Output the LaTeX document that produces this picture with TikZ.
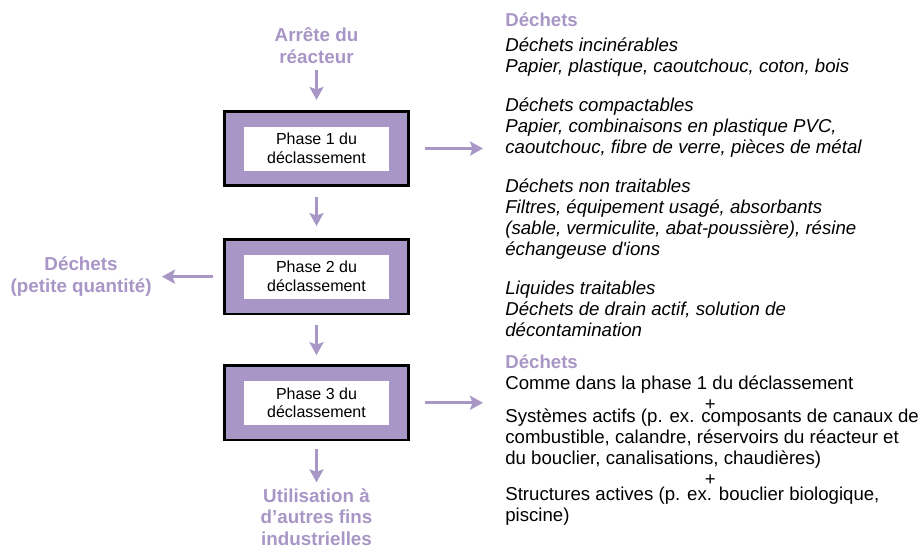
\documentclass[tikz,border=0pt]{standalone}
\usepackage{fontspec}
\setmainfont{Liberation Sans}
\usetikzlibrary{arrows.meta, positioning}
\definecolor{lilac}{RGB}{168,150,198}

\begin{document}
\begin{tikzpicture}[
    phasebox/.style={draw=black, line width=1.5pt, fill=lilac, minimum width=3.69cm, minimum height=1.49cm},
    phasetext/.style={fill=white, minimum width=2.9cm, minimum height=0.88cm, align=center,
                      inner sep=0pt, font=\fontsize{9.1}{10.8}\selectfont},
    tag/.style={text=lilac, font=\fontsize{10.7}{12.2}\selectfont\bfseries, align=center, inner sep=0pt},
    list/.style={align=left, inner sep=0pt, anchor=north west, font=\fontsize{10.6}{11.95}\selectfont},
    flow/.style={-{Stealth[length=0.26cm, width=0.28cm, inset=0.05cm]}, line width=1.6pt, lilac}]

    \useasboundingbox (0,0) rectangle (18.4,-10.96);

    % Phases - centre column
    \node[phasebox] (phase1) at (6.33,-2.97) {};
    \node[phasebox, below=1.02cm of phase1] (phase2) {};
    \node[phasebox, below=0.98cm of phase2] (phase3) {};
    \node[phasetext] (phase1txt) at (phase1) {Phase 1 du\\déclassement};
    \node[phasetext] (phase2txt) at (phase2) {Phase 2 du\\déclassement};
    \node[phasetext] (phase3txt) at (phase3) {Phase 3 du\\déclassement};

    % Inputs and outputs of the column
    \node[tag, above=0.92cm of phase1] (arret) {Arrête du\\réacteur};
    \node[tag, left=1.42cm of phase2] (smallwaste) {Déchets\\(petite quantité)};
    \node[tag, below=0.94cm of phase3] (reuse) {Utilisation à\\d'autres fins\\industrielles};

    % Waste lists - right side
    \node[list, font=\fontsize{10.6}{11.95}\selectfont\itshape] (wastes1) at (10.1,-0.246) {%
        {\upshape\bfseries\color{lilac}Déchets}\\[0.08cm]
        Déchets incinérables\\
        Papier, plastique, caoutchouc, coton, bois\\[0.36cm]
        Déchets compactables\\
        Papier, combinaisons en plastique PVC,\\
        caoutchouc, fibre de verre, pièces de métal\\[0.36cm]
        Déchets non traitables\\
        Filtres, équipement usagé, absorbants\\
        (sable, vermiculite, abat-poussière), résine\\
        échangeuse d\textquotesingle ions\\[0.36cm]
        Liquides traitables\\
        Déchets de drain actif, solution de\\
        décontamination};
    \node[list, below=0.36cm of wastes1.south west, anchor=north west] (wastes3) {%
        {\bfseries\color{lilac}Déchets}\\
        Comme dans la phase 1 du déclassement\\
        \makebox[8.2cm]{+}\\[-0.18cm]
        Systèmes actifs (p. ex. composants de canaux de\\
        combustible, calandre, réservoirs du réacteur et\\
        du bouclier, canalisations, chaudières)\\
        \makebox[8.2cm]{+}\\[-0.12cm]
        Structures actives (p. ex. bouclier biologique,\\
        piscine)};

    % Flow arrows
    \draw[flow, shorten <=0.12cm, shorten >=0.2cm] (arret) -- (phase1);
    \draw[flow, shorten <=0.2cm, shorten >=0.24cm] (phase1) -- (phase2);
    \draw[flow, shorten <=0.2cm, shorten >=0.18cm] (phase2) -- (phase3);
    \draw[flow, shorten <=0.16cm, shorten >=0.12cm] (phase3) -- (reuse);
    \draw[flow, shorten <=0.2cm, shorten >=0.2cm] (phase2) -- (smallwaste);
    \draw[flow, shorten <=0.3cm, shorten >=0.44cm] (phase1.east) -- (phase1.east -| wastes1.west);
    \draw[flow, shorten <=0.3cm, shorten >=0.44cm] (phase3.east) -- (phase3.east -| wastes3.west);
\end{tikzpicture}
\end{document}
